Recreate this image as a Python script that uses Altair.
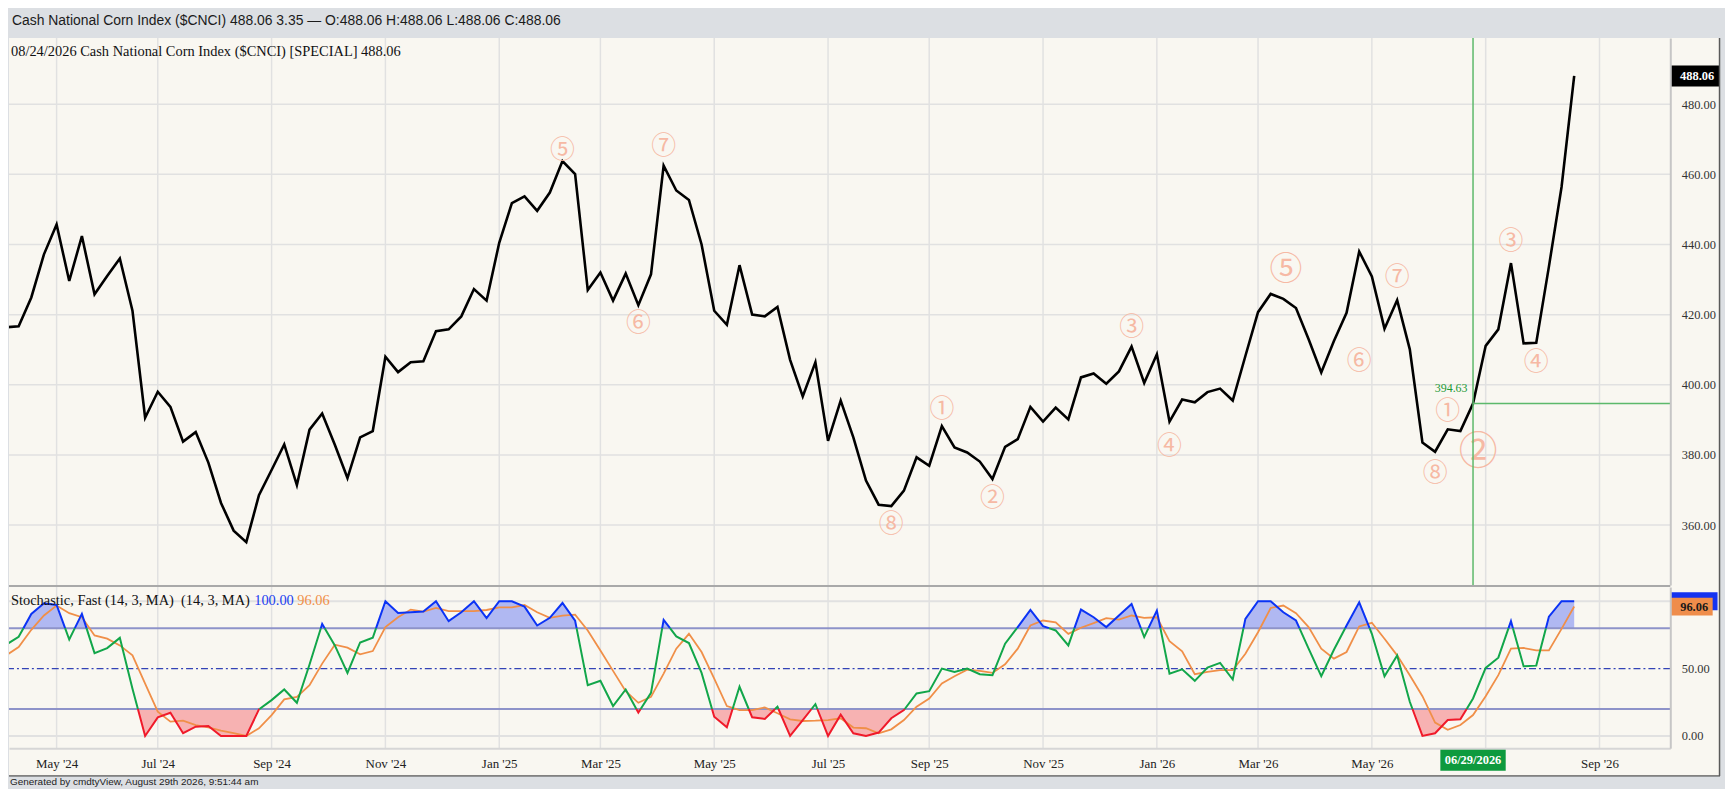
import altair as alt
import pandas as pd

# ---------------- data ----------------
close = [416.4, 416.7, 424.9, 437.2, 445.7, 429.6, 442.4, 425.8, 431.0, 436.0,
         421.1, 390.6, 398.0, 393.7, 383.8, 386.5, 377.8, 366.3, 358.4, 355.1,
         368.5, 375.7, 383.0, 371.4, 387.2, 391.8, 382.9, 373.4, 385.0, 386.8,
         408.0, 403.6, 406.4, 406.7, 415.3, 415.8, 419.5, 427.3, 424.0, 440.5,
         451.8, 453.7, 449.6, 454.8, 463.8, 460.1, 427.0, 432.0, 424.0, 431.7,
         422.7, 431.5, 462.5, 455.4, 452.7, 440.0, 421.1, 417.1, 434.1, 420.0,
         419.5, 422.2, 407.1, 396.7, 406.4, 384.0, 395.5, 385.0, 372.7, 365.8,
         365.4, 369.8, 379.3, 376.9, 388.2, 382.1, 380.7, 378.1, 373.1, 382.3,
         384.5, 393.7, 389.5, 393.5, 390.1, 402.1, 403.2, 400.3, 403.8, 410.9,
         400.5, 408.7, 389.5, 395.8, 395.0, 397.9, 398.9, 395.5, 408.2, 420.7,
         425.9, 424.5, 421.9, 413.0, 403.5, 412.5, 420.5, 438.0, 430.9, 416.0,
         424.1, 410.1, 383.5, 380.9, 387.3, 386.8, 394.63, 411.1, 415.8, 434.7,
         411.8, 412.0, 433.7, 456.4, 488.06]

pct_k = [67.7, 73.6, 90.6, 98.5, 97.2, 71.6, 90.6, 61.5, 65.2, 72.8,
         35.0, 0.0, 13.8, 17.2, 2.0, 6.9, 7.4, 0.0, 0.0, 0.0,
         19.7, 26.6, 34.5, 24.6, 53.0, 83.2, 67.2, 46.8, 69.4, 72.9,
         100.0, 91.3, 91.8, 92.3, 100.0, 85.2, 91.8, 100.0, 87.4, 100.0,
         100.0, 96.0, 82.0, 87.7, 98.7, 85.5, 37.7, 40.9, 22.2, 34.5,
         17.3, 32.0, 86.2, 73.9, 69.0, 46.8, 14.3, 6.4, 36.5, 13.8,
         12.6, 21.7, 0.0, 11.8, 23.6, 0.0, 15.8, 2.0, 0.0, 2.5,
         13.1, 19.2, 31.5, 33.2, 50.0, 47.5, 50.0, 45.8, 45.1, 68.5,
         80.8, 93.6, 81.5, 78.3, 67.2, 93.8, 88.1, 80.8, 89.4, 98.0,
         73.4, 93.1, 46.3, 49.5, 40.9, 50.7, 54.2, 41.9, 86.9, 100.0,
         100.0, 91.8, 85.7, 64.8, 44.3, 64.0, 82.0, 99.2, 75.8, 44.3,
         59.8, 25.4, 0.0, 2.0, 11.8, 12.3, 27.8, 50.5, 58.1, 85.2,
         51.7, 52.2, 88.6, 100.0, 100.0]

pct_d = [59.8, 66.0, 78.8, 89.4, 96.8, 91.1, 88.1, 74.6, 72.2, 67.2,
         59.8, 38.9, 18.0, 10.6, 11.3, 8.1, 6.4, 3.9, 2.0, 0.0,
         5.7, 15.5, 27.1, 29.0, 37.7, 53.7, 67.7, 65.5, 60.6, 63.0,
         80.8, 88.1, 93.8, 92.3, 95.0, 92.6, 92.6, 92.6, 93.5, 95.5,
         95.5, 97.2, 91.8, 87.7, 89.4, 90.1, 78.3, 63.5, 48.3, 33.2,
         24.6, 29.0, 46.3, 64.8, 75.8, 62.3, 42.6, 22.2, 19.2, 19.2,
         21.2, 16.8, 12.3, 11.1, 11.3, 11.8, 13.1, 6.2, 5.7, 2.0,
         4.9, 11.8, 21.7, 27.8, 38.9, 44.3, 49.2, 48.3, 46.8, 53.2,
         64.8, 82.0, 85.7, 84.4, 75.8, 80.3, 83.7, 87.4, 86.4, 89.4,
         87.7, 88.1, 70.4, 62.8, 45.8, 47.5, 48.8, 48.8, 61.0, 77.0,
         95.0, 96.8, 91.1, 80.8, 64.8, 57.4, 62.3, 81.3, 84.0, 72.2,
         59.8, 45.1, 29.5, 9.9, 4.5, 8.1, 15.5, 29.5, 45.1, 64.8,
         65.3, 63.5, 63.5, 79.5, 96.06]

first_week = "2024-04-08"
grid_dates = ["2024-05-06", "2024-07-01", "2024-09-02", "2024-11-04", "2025-01-06",
              "2025-03-03", "2025-05-05", "2025-07-07", "2025-09-01", "2025-11-03",
              "2026-01-05", "2026-03-02", "2026-05-04", "2026-07-06", "2026-09-07"]
price_ticks = [360, 380, 400, 420, 440, 460, 480]
stoch_ticks = [0, 50]
stoch_grid = [0, 100]
stoch_bands = [20, 80]

ann_labels = ["⑤", "⑥", "⑦", "⑧", "①", "②", "③", "④", "⑥", "⑦", "⑧", "①", "③", "④"]
ann_weeks = [44, 50, 52, 70, 74, 78, 89, 92, 107, 110, 113, 114, 119, 121]
ann_values = [466.8, 417.5, 468.2, 360.4, 393.1, 367.7, 416.5, 382.5,
              406.8, 430.7, 374.7, 392.6, 441.1, 406.5]
big5_week, big5_value = 101.2, 432.8
big2_week, big2_value = 116.4, 380.8

cross_week, cross_value = 116, 394.63
last_close, last_k, last_d = 488.06, 100.0, 96.06

header_text = "Cash National Corn Index ($CNCI) 488.06 3.35 \u2014 O:488.06 H:488.06 L:488.06 C:488.06"
title_text = "08/24/2026 Cash National Corn Index ($CNCI) [SPECIAL] 488.06"
stoch_text = "Stochastic, Fast (14, 3, MA)\u00a0 (14, 3, MA)"
footer_text = "Generated by cmdtyView, August 29th 2026, 9:51:44 am"
date_label = "06/29/2026"

# ---------------- helpers ----------------
DAY = 86400000
base_ms = int(pd.Timestamp(first_week, tz="UTC").value // 10**6)


def week_ms(w):
    return base_ms + w * 7 * DAY


def iso(ms):
    return pd.Timestamp(int(round(ms)), unit="ms", tz="UTC").isoformat()


grid_ms = [int(pd.Timestamp(d, tz="UTC").value // 10**6) for d in grid_dates]

# ---------------- layout ----------------
W, H1, H2 = 1670, 550, 162
PX_WEEK = 12.713
x_left = base_ms + (3 / PX_WEEK) * 7 * DAY
x_right = x_left + (W / PX_WEEK) * 7 * DAY

BEIGE = "#f9f7f1"
GRAY = "#dcdfe3"
GRID = "#e1e1e1"
SALMON = "#f6b9a4"
GREEN_X = "#5cb96b"
K_BLUE, K_GREEN, K_RED = "#0b33f5", "#12a64a", "#f01a2a"
ORANGE = "#f08f48"
SERIF = "Liberation Serif"
SANS = "Liberation Sans"

xscale = alt.Scale(type="utc", domain=[x_left, x_right])
ps = alt.Scale(domain=[342.89, 498.92], nice=False, zero=False)
ss = alt.Scale(domain=[-9.08, 110.56], nice=False, zero=False)

Y_AX = alt.Axis(orient="right", values=price_ticks, format=".2f", grid=False, ticks=False,
                tickSize=0, labelPadding=11, labelFont=SERIF, labelFontSize=12.5,
                labelColor="#333333", labelAlign="left", domain=True, domainColor="#c6c6c6",
                domainWidth=2, title=None, zindex=1)
S_AX = alt.Axis(orient="right", values=stoch_ticks, format=".2f", grid=False, ticks=False,
                tickSize=0, labelPadding=11, labelFont=SERIF, labelFontSize=12.5,
                labelColor="#333333", labelAlign="left", domain=True, domainColor="#c6c6c6",
                domainWidth=2, title=None, zindex=1)
MONTH_FMT = "utcFormat(datum.value, \"%b '%y\")"
X_AX = alt.Axis(values=grid_ms,
                labelExpr=MONTH_FMT + " == \"Jul '26\" ? '' : " + MONTH_FMT,
                grid=False, ticks=False, tickSize=0, labelPadding=15, labelBaseline="middle",
                labelFont=SERIF, labelFontSize=13, labelColor="#222222", domain=True,
                domainColor="#d6d6d6", domainWidth=2, title=None, zindex=1, labelFlush=False,
                labelOverlap=False)

XP = alt.X("t:T", scale=xscale, axis=None)
XS = alt.X("t:T", scale=xscale, axis=X_AX)

one = pd.DataFrame({"a": [0]})
price_df = pd.DataFrame({"t": [iso(week_ms(i)) for i in range(len(close))], "close": close})
grid_df = pd.DataFrame({"t": [iso(m) for m in grid_ms]})
ann_df = pd.DataFrame({"t": [iso(week_ms(w)) for w in ann_weeks], "v": ann_values, "lab": ann_labels})
big5_df = pd.DataFrame({"t": [iso(week_ms(big5_week))], "v": [big5_value], "lab": ["⑤"]})
big2_df = pd.DataFrame({"t": [iso(week_ms(big2_week))], "v": [big2_value], "lab": ["②"]})
cross_df = pd.DataFrame({"t": [iso(week_ms(cross_week))], "v": [cross_value],
                         "lab": ["%.2f" % cross_value]})
last_df = pd.DataFrame({"v": [last_close], "lab": ["%.2f" % last_close]})

# ---------------- price panel ----------------
header_rect = alt.Chart(one).mark_rect(color=GRAY, clip=False).encode(
    x=alt.value(0), x2=alt.value(1725), y=alt.value(-28), y2=alt.value(0))
frame = alt.Chart(one).mark_rect(color=BEIGE, clip=False).encode(
    x=alt.value(0), x2=alt.value(1720), y=alt.value(0), y2=alt.value(742))
border_r = alt.Chart(one).mark_rule(color="#5a5a5a", strokeWidth=1.5, clip=False).encode(
    x=alt.value(1719.5), y=alt.value(0), y2=alt.value(742))
border_b = alt.Chart(one).mark_rule(color="#5a5a5a", strokeWidth=1.5, clip=False).encode(
    x=alt.value(0), x2=alt.value(1720), y=alt.value(742))
vgrid = alt.Chart(grid_df).mark_rule(color=GRID, strokeWidth=1.5).encode(x=XP)
hgrid = alt.Chart(pd.DataFrame({"v": price_ticks})).mark_rule(color=GRID, strokeWidth=1.5).encode(
    y=alt.Y("v:Q", scale=ps, axis=Y_AX))
pline = alt.Chart(price_df).mark_line(color="black", strokeWidth=2.6, clip=True).encode(
    x=XP, y=alt.Y("close:Q", scale=ps, axis=Y_AX))
ann = alt.Chart(ann_df).mark_text(font="Noto Sans CJK JP", fontSize=25, color=SALMON,
                                  baseline="middle", align="center").encode(
    x=XP, y=alt.Y("v:Q", scale=ps, axis=Y_AX), text="lab:N")
ann5 = alt.Chart(big5_df).mark_text(font="Noto Sans CJK JP", fontSize=33, color=SALMON,
                                    baseline="middle", align="center").encode(
    x=XP, y=alt.Y("v:Q", scale=ps, axis=Y_AX), text="lab:N")
ann2 = alt.Chart(big2_df).mark_text(font="Noto Sans CJK JP", fontSize=39, color=SALMON,
                                    baseline="middle", align="center").encode(
    x=XP, y=alt.Y("v:Q", scale=ps, axis=Y_AX), text="lab:N")
cross_v = alt.Chart(cross_df).mark_rule(color=GREEN_X, strokeWidth=1.5).encode(x=XP)
cross_h = alt.Chart(cross_df).mark_rule(color=GREEN_X, strokeWidth=1.5).encode(
    x=XP, x2=alt.value(W), y=alt.Y("v:Q", scale=ps, axis=Y_AX))
cross_lbl = alt.Chart(cross_df).mark_text(font=SERIF, fontSize=12, color="#1c9a35",
                                          dx=-22, dy=-16, baseline="middle").encode(
    x=XP, y=alt.Y("v:Q", scale=ps, axis=Y_AX), text="lab:N")
val_box = alt.Chart(last_df).transform_calculate(hi="datum.v + 3", lo="datum.v - 3").mark_rect(
    color="black", clip=False).encode(
    x=alt.value(W), x2=alt.value(W + 49), y=alt.Y("hi:Q", scale=ps, axis=Y_AX), y2="lo:Q")
val_txt = alt.Chart(last_df).mark_text(font=SERIF, fontSize=12.5, fontWeight="bold", color="white",
                                       align="center", baseline="middle", clip=False).encode(
    x=alt.value(W + 27), y=alt.Y("v:Q", scale=ps, axis=Y_AX), text="lab:N")
title = alt.Chart(one).mark_text(text=title_text, font=SERIF, fontSize=14.5, color="#111111",
                                 align="left", baseline="middle").encode(
    x=alt.value(2), y=alt.value(14))
header = alt.Chart(one).mark_text(text=header_text, font=SANS, fontSize=14, color="#1b1b1b",
                                  align="left", baseline="middle", clip=False).encode(
    x=alt.value(3), y=alt.value(-17))

price = alt.layer(header_rect, frame, vgrid, hgrid, pline, ann, ann5, ann2, cross_v, cross_h,
                  cross_lbl, val_box, val_txt, title, header, border_r, border_b).properties(
    width=W, height=H1)

# ---------------- stochastic panel ----------------
ts = [week_ms(i) for i in range(len(pct_k))]


def densify(tv, kv, ths=(20, 80)):
    pts = [(tv[0], kv[0])]
    for (t0, k0), (t1, k1) in zip(zip(tv, kv), zip(tv[1:], kv[1:])):
        cr = []
        for th in ths:
            if (k0 - th) * (k1 - th) < 0:
                f = (th - k0) / (k1 - k0)
                cr.append((f, t0 + f * (t1 - t0), th))
        for f, t, th in sorted(cr):
            pts.append((t, th))
        pts.append((t1, k1))
    return pts


def zone(v):
    return "hi" if v > 80 else ("lo" if v < 20 else "mid")


dense = densify(ts, pct_k)
rows, seg, prev = [], -1, None
for a, b in zip(dense, dense[1:]):
    z = zone((a[1] + b[1]) / 2)
    if z != prev:
        seg += 1
        rows.append({"t": iso(a[0]), "k": a[1], "seg": seg, "zone": z})
        prev = z
    rows.append({"t": iso(b[0]), "k": b[1], "seg": seg, "zone": z})
kseg_df = pd.DataFrame(rows)
dense_df = pd.DataFrame({"t": [iso(p[0]) for p in dense], "k": [p[1] for p in dense]})
d_df = pd.DataFrame({"t": [iso(t) for t in ts], "d": pct_d})

s_vgrid = alt.Chart(grid_df).mark_rule(color=GRID, strokeWidth=1.5).encode(x=XS)
s_hgrid = alt.Chart(pd.DataFrame({"v": stoch_grid})).mark_rule(color=GRID, strokeWidth=2).encode(
    y=alt.Y("v:Q", scale=ss, axis=S_AX))
fill_hi = alt.Chart(dense_df).transform_calculate(top="max(datum.k, 80)", base="80").mark_area(
    color="#b0b8f2", opacity=1, clip=True).encode(
    x=XS, y=alt.Y("top:Q", scale=ss, axis=S_AX), y2="base:Q")
fill_lo = alt.Chart(dense_df).transform_calculate(top="min(datum.k, 20)", base="20").mark_area(
    color="#f7b2b2", opacity=1, clip=True).encode(
    x=XS, y=alt.Y("top:Q", scale=ss, axis=S_AX), y2="base:Q")
bands = alt.Chart(pd.DataFrame({"v": stoch_bands})).mark_rule(color="#8e93c9", strokeWidth=2).encode(
    y=alt.Y("v:Q", scale=ss, axis=S_AX))
mid = alt.Chart(pd.DataFrame({"v": [50]})).mark_rule(color="#3343b6", strokeWidth=1.2,
                                                     strokeDash=[7, 3, 2, 3]).encode(
    y=alt.Y("v:Q", scale=ss, axis=S_AX))
dline = alt.Chart(d_df).mark_line(color=ORANGE, strokeWidth=1.8, clip=True).encode(
    x=XS, y=alt.Y("d:Q", scale=ss, axis=S_AX))
kline = alt.Chart(kseg_df).mark_line(strokeWidth=2, clip=True).encode(
    x=XS, y=alt.Y("k:Q", scale=ss, axis=S_AX),
    color=alt.Color("zone:N", scale=alt.Scale(domain=["hi", "mid", "lo"],
                                              range=[K_BLUE, K_GREEN, K_RED]), legend=None),
    detail="seg:N")
sep = alt.Chart(one).mark_rule(color="#a9a9a9", strokeWidth=2, clip=False).encode(
    x=alt.value(0), x2=alt.value(W), y=alt.value(-1))
s_txt = alt.Chart(one).mark_text(text=stoch_text, font=SERIF, fontSize=14.5, color="#111111",
                                 align="left", baseline="middle").encode(
    x=alt.value(2), y=alt.value(14.3))
s_k_txt = alt.Chart(one).mark_text(text="%.2f" % last_k, font=SERIF, fontSize=14.5, color="#1a3cf0",
                                   align="left", baseline="middle").encode(
    x=alt.value(246.5), y=alt.value(14.3))
s_d_txt = alt.Chart(one).mark_text(text="%.2f" % last_d, font=SERIF, fontSize=14.5, color=ORANGE,
                                   align="left", baseline="middle").encode(
    x=alt.value(289.8), y=alt.value(14.3))
kbox = alt.Chart(pd.DataFrame({"v": [last_k]})).transform_calculate(
    hi="datum.v + 6.6", lo="datum.v - 6.6").mark_rect(color="#1533f0", clip=False).encode(
    x=alt.value(W), x2=alt.value(W + 47.5), y=alt.Y("hi:Q", scale=ss, axis=S_AX), y2="lo:Q")
dbox = alt.Chart(pd.DataFrame({"v": [last_d]})).transform_calculate(
    hi="datum.v + 6.6", lo="datum.v - 6.6").mark_rect(color="#ef8d4b", clip=False).encode(
    x=alt.value(W), x2=alt.value(W + 42.6), y=alt.Y("hi:Q", scale=ss, axis=S_AX), y2="lo:Q")
dbox_txt = alt.Chart(pd.DataFrame({"v": [last_d], "lab": ["%.2f" % last_d]})).mark_text(
    font=SERIF, fontSize=12.5, fontWeight="bold", color="#1a1a1a", align="center",
    baseline="middle", clip=False).encode(
    x=alt.value(W + 24), y=alt.Y("v:Q", scale=ss, axis=S_AX), text="lab:N")
date_df = pd.DataFrame({"t": [iso(week_ms(cross_week))], "lab": [date_label]})
date_box = alt.Chart(date_df).mark_point(shape="M-1,-0.335L1,-0.335L1,0.335L-1,0.335Z", filled=True,
                                         size=4316, color="#0e9a3e", opacity=1, strokeWidth=0,
                                         clip=False).encode(x=XS, y=alt.value(H2 + 11.7))
date_txt = alt.Chart(date_df).mark_text(font=SERIF, fontSize=12.5, fontWeight="bold", color="white",
                                        align="center", baseline="middle", clip=False).encode(
    x=XS, y=alt.value(H2 + 11.7), text="lab:N")
footer_rect = alt.Chart(one).mark_rect(color=GRAY, clip=False).encode(
    x=alt.value(0), x2=alt.value(1725), y=alt.value(190.8), y2=alt.value(201))
footer = alt.Chart(one).mark_text(text=footer_text, font=SANS, fontSize=10, color="#222222",
                                  align="left", baseline="middle", clip=False).encode(
    x=alt.value(1), y=alt.value(196))

stoch = alt.layer(s_vgrid, s_hgrid, fill_hi, fill_lo, bands, mid, dline, kline, sep, s_txt,
                  s_k_txt, s_d_txt, kbox, dbox, dbox_txt, date_box, date_txt, footer_rect,
                  footer).properties(width=W, height=H2)

chart = alt.vconcat(price, stoch, spacing=2, bounds="flush").properties(
    background=GRAY, padding=0).configure_view(stroke=None)

chart.save("out.html", embed_options={"renderer": "svg", "actions": False})
